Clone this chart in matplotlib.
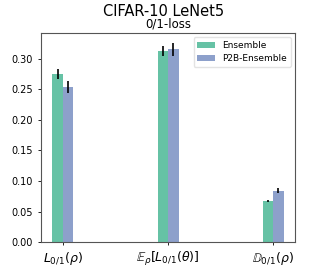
import numpy as np
import matplotlib
matplotlib.use('Agg')
import matplotlib.pyplot as plt

labels = [r'$L_{0/1}(\rho)$', r'$\mathbb{E}_{\rho}[L_{0/1}(\theta)]$', r'$\mathbb{D}_{0/1}(\rho)$']
ens = [0.275, 0.313, 0.067]
ens_err = [0.0075, 0.008, 0.002]
p2b = [0.254, 0.315, 0.084]
p2b_err = [0.0095, 0.011, 0.004]

x = np.arange(len(labels))
w = 0.1

fig = plt.figure(figsize=(3.27, 2.73), dpi=100)
ax = fig.add_axes([0.125, 0.113, 0.778, 0.767])
ax.bar(x - w/2, ens, w, yerr=ens_err, color='#66c2a5', label='Ensemble', ecolor='black', error_kw=dict(lw=1.2))
ax.bar(x + w/2, p2b, w, yerr=p2b_err, color='#8da0cb', label='P2B-Ensemble', ecolor='black', error_kw=dict(lw=1.2))
ax.set_xticks(x)
ax.set_xticklabels(labels, fontsize=9)
ax.set_yticks(np.arange(0, 0.31, 0.05))
ax.set_yticklabels(['%.2f' % v for v in np.arange(0, 0.31, 0.05)], fontsize=7)
ax.tick_params(length=2.5, width=0.6)
for s in ax.spines.values():
    s.set_color('#555555')
    s.set_linewidth(0.8)
ax.legend(fontsize=6.5, loc='upper right', handlelength=2.0, framealpha=0.8, edgecolor='#dddddd')
fig.suptitle('CIFAR-10 LeNet5', fontsize=10.5, y=0.985)
ax.set_title('0/1-loss', fontsize=8.5, pad=3.5)
fig.savefig('out.png', dpi=100)
